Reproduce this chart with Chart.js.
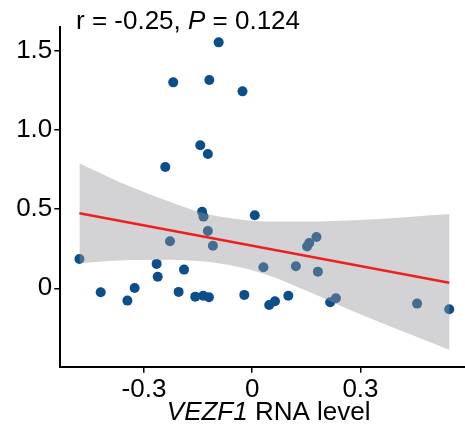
<!DOCTYPE html>
<html>
<head>
<meta charset="utf-8">
<script src="https://cdn.jsdelivr.net/npm/chart.js@4"></script>
<style>
  html, body { margin: 0; padding: 0; background: #fff; overflow: hidden; }
  #wrap { width: 482px; height: 427px; }
</style>
</head>
<body>
<div id="wrap"><canvas id="corChart"></canvas></div>
<script>
// points
const xVals = [-0.093, -0.219, -0.119, -0.027, -0.144, -0.123, -0.241, -0.139, -0.135, -0.123,
  -0.228, -0.109, -0.479, -0.265, -0.189, -0.262, 0.007, -0.420, -0.346, -0.326,
  -0.204, -0.158, -0.136, -0.120, -0.022, 0.178, 0.152, 0.158, 0.031, 0.121,
  0.182, 0.047, 0.063, 0.100, 0.216, 0.232, 0.457, 0.546];
const yVals = [1.555, 1.302, 1.317, 1.245, 0.904, 0.849, 0.767, 0.484, 0.453, 0.362,
  0.297, 0.269, 0.185, 0.154, 0.118, 0.073, 0.462, -0.025, -0.078, 0.002,
  -0.023, -0.053, -0.047, -0.057, -0.042, 0.324, 0.264, 0.286, 0.133, 0.139,
  0.105, -0.106, -0.082, -0.047, -0.088, -0.063, -0.097, -0.133];

// fitted line and its band
const fitX = [-0.479, 0.546];
const fitY = [0.474, 0.035];
const bandX = [-0.479, -0.37, -0.23, -0.14, -0.05, 0.04, 0.15, 0.30, 0.547];
const bandUpper = [0.79, 0.674, 0.548, 0.478, 0.44, 0.422, 0.422, 0.432, 0.47];
const bandLower = [0.158, 0.175, 0.18, 0.17, 0.14, 0.085, -0.015, -0.165, -0.39];

const xTicks = [-0.3, 0, 0.3];
const xTickLabels = ['-0.3', '0', '0.3'];
const yTicks = [0, 0.5, 1.0, 1.5];
const yTickLabels = ['0', '0.5', '1.0', '1.5'];

const FONT = '"Liberation Sans", Arial, sans-serif';
const SIZE = 26;

const toXY = (xs, ys) => xs.map((x, i) => ({ x: x, y: ys[i] }));

// texte : titre avec P en italique, titre de l'axe x avec VEZF1 en italique
const textPlugin = {
  id: 'textes',
  afterDraw(chart) {
    const ctx = chart.ctx;
    ctx.save();
    ctx.fillStyle = '#000';
    ctx.textBaseline = 'alphabetic';
    ctx.textAlign = 'left';
    let x = 76;
    const parts1 = [['r = -0.25, ', ''], ['P', 'italic '], [' = 0.124', '']];
    parts1.forEach(p => {
      ctx.font = p[1] + SIZE + 'px ' + FONT;
      ctx.fillText(p[0], x, 29);
      x += ctx.measureText(p[0]).width;
    });

    const parts2 = [['VEZF1', 'italic '], [' RNA level', '']];
    let w = 0;
    parts2.forEach(p => { ctx.font = p[1] + SIZE + 'px ' + FONT; w += ctx.measureText(p[0]).width; });
    const ca = chart.chartArea;
    x = (ca.left + ca.right) / 2 - w / 2;
    parts2.forEach(p => {
      ctx.font = p[1] + SIZE + 'px ' + FONT;
      ctx.fillText(p[0], x, 420);
      x += ctx.measureText(p[0]).width;
    });
    ctx.restore();
  }
};

const ctx = document.getElementById('corChart').getContext('2d');
const corChart = new Chart(ctx, {
  type: 'scatter',
  data: {
    datasets: [
      {
        data: toXY(xVals, yVals),
        backgroundColor: '#0c4e8a',
        borderWidth: 0,
        pointRadius: 5,
        order: 3
      },
      {
        type: 'line',
        data: toXY(bandX, bandLower),
        borderWidth: 0,
        borderColor: 'rgba(0,0,0,0)',
        pointRadius: 0,
        cubicInterpolationMode: 'monotone',
        fill: false,
        order: 2
      },
      {
        type: 'line',
        data: toXY(bandX, bandUpper),
        borderWidth: 0,
        borderColor: 'rgba(0,0,0,0)',
        backgroundColor: 'rgba(150,150,155,0.42)',
        pointRadius: 0,
        cubicInterpolationMode: 'monotone',
        fill: '-1',
        order: 2
      },
      {
        type: 'line',
        data: toXY(fitX, fitY),
        borderColor: '#ee1f1f',
        borderWidth: 2.5,
        pointRadius: 0,
        fill: false,
        order: 1
      }
    ]
  },
  options: {
    responsive: true,
    maintainAspectRatio: false,
    animation: false,
    layout: { padding: { top: 27, right: 1, left: 0, bottom: 0 } },
    plugins: { legend: { display: false }, tooltip: { enabled: false } },
    scales: {
      x: {
        type: 'linear',
        min: -0.532,
        max: 0.623,
        afterBuildTicks: s => { s.ticks = xTicks.map(v => ({ value: v })); },
        afterFit: s => { s.height = 60.3; },
        ticks: {
          callback: (v, i) => xTickLabels[i],
          font: { family: FONT, size: SIZE },
          color: '#000',
          padding: 2,
          maxRotation: 0
        },
        grid: { drawOnChartArea: false, drawTicks: true, tickLength: 6, color: '#000', lineWidth: 1.5 },
        border: { display: true, color: '#000', width: 2 }
      },
      y: {
        type: 'linear',
        min: -0.496,
        max: 1.652,
        afterBuildTicks: s => { s.ticks = yTicks.map(v => ({ value: v })); },
        afterFit: s => { s.width = 60.3; },
        ticks: {
          callback: (v, i) => yTickLabels[i],
          font: { family: FONT, size: SIZE },
          color: '#000',
          padding: 2
        },
        grid: { drawOnChartArea: false, drawTicks: true, tickLength: 6, color: '#000', lineWidth: 1.5 },
        border: { display: true, color: '#000', width: 2 }
      }
    }
  },
  plugins: [textPlugin]
});
</script>
</body>
</html>
